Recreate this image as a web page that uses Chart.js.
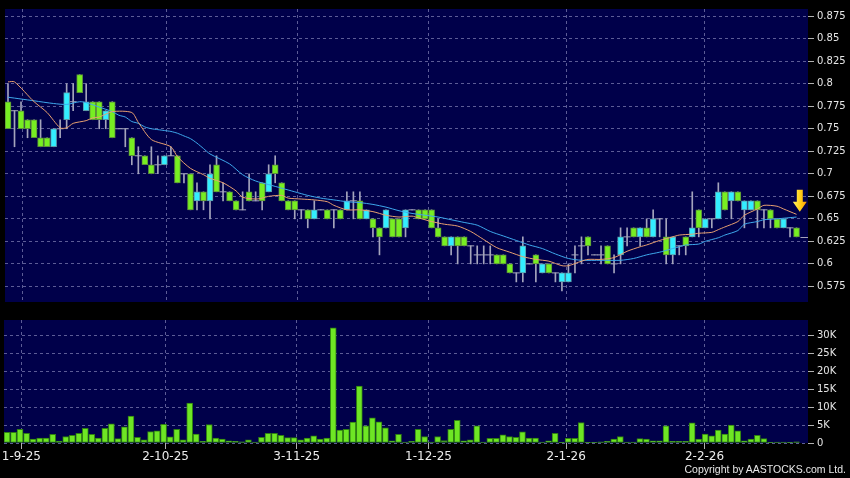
<!DOCTYPE html>
<html>
<head>
<meta charset="utf-8">
<script src="https://cdn.jsdelivr.net/npm/chart.js@4.4.1/dist/chart.umd.min.js"></script>
<style>
  html, body { margin: 0; padding: 0; background: #000; }
  #wrap { position: relative; width: 850px; height: 478px; overflow: hidden; background: #000; }
  #price { position: absolute; left: 0; top: 0; }
  #vol { position: absolute; left: 0; top: 311px; }
  #copy { position: absolute; right: 4px; top: 463px; color: #e8e8e8;
          font: 10.5px "Liberation Sans", Arial, sans-serif; white-space: nowrap; }
</style>
</head>
<body>
<div id="wrap">
  <canvas id="price" width="850" height="311"></canvas>
  <canvas id="vol" width="850" height="167"></canvas>
  <div id="copy">Copyright by AASTOCKS.com Ltd.</div>
</div>
<script>
// daily candles, index 0 = 28-8-25 ... 121 = last session
const opens  = [0.78,0.77,0.77,0.76,0.76,0.74,0.74,0.73,0.75,0.76, 0.78,0.81,0.77,0.78,0.78,0.76,0.78,0.75,0.75,0.74,
                0.72,0.72,0.71,0.71,0.71,0.72,0.72,0.70,0.70,0.67, 0.68,0.67,0.71,0.68,0.68,0.67,0.66,0.68,0.67,0.69,
                0.68,0.71,0.69,0.67,0.67,0.66,0.66,0.65,0.66,0.66, 0.66,0.66,0.66,0.67,0.67,0.65,0.65,0.64,0.64,0.65,
                0.65,0.64,0.66,0.66,0.66,0.66,0.64,0.63,0.62,0.63, 0.63,0.62,0.61,0.61,0.61,0.61,0.61,0.60,0.59,0.59,
                0.60,0.61,0.59,0.60,0.59,0.58,0.58,0.61,0.62,0.63, 0.61,0.61,0.62,0.60,0.61,0.63,0.64,0.63,0.64,0.63,
                0.65,0.63,0.61,0.62,0.63,0.63,0.66,0.64,0.65,0.65, 0.68,0.67,0.68,0.66,0.66,0.67,0.66,0.66,0.65,0.64,
                0.64,0.64];
const highs  = [0.80,0.77,0.78,0.76,0.76,0.76,0.74,0.75,0.76,0.80, 0.80,0.81,0.80,0.78,0.78,0.77,0.78,0.75,0.75,0.74,
                0.73,0.72,0.73,0.72,0.72,0.73,0.72,0.70,0.70,0.69, 0.68,0.71,0.72,0.69,0.68,0.67,0.68,0.70,0.68,0.69,
                0.71,0.72,0.69,0.67,0.67,0.66,0.66,0.67,0.66,0.66, 0.66,0.66,0.68,0.68,0.68,0.66,0.65,0.64,0.66,0.65,
                0.65,0.66,0.66,0.66,0.66,0.66,0.65,0.63,0.63,0.63, 0.63,0.62,0.62,0.62,0.62,0.61,0.61,0.60,0.59,0.63,
                0.60,0.61,0.60,0.60,0.59,0.59,0.60,0.62,0.63,0.63, 0.61,0.62,0.62,0.61,0.64,0.64,0.64,0.64,0.65,0.66,
                0.65,0.65,0.63,0.62,0.63,0.68,0.66,0.65,0.65,0.69, 0.68,0.68,0.68,0.67,0.67,0.67,0.66,0.66,0.65,0.65,
                0.64,0.64];
const lows   = [0.75,0.73,0.75,0.74,0.74,0.73,0.73,0.73,0.74,0.75, 0.77,0.79,0.77,0.76,0.75,0.75,0.74,0.75,0.73,0.71,
                0.70,0.71,0.70,0.70,0.71,0.72,0.69,0.69,0.66,0.66, 0.66,0.65,0.68,0.67,0.67,0.66,0.66,0.67,0.67,0.66,
                0.68,0.69,0.67,0.66,0.65,0.65,0.64,0.65,0.66,0.65, 0.64,0.65,0.66,0.65,0.65,0.65,0.63,0.61,0.64,0.63,
                0.63,0.63,0.66,0.65,0.65,0.64,0.63,0.62,0.61,0.60, 0.62,0.60,0.60,0.60,0.60,0.60,0.60,0.59,0.58,0.58,
                0.60,0.58,0.59,0.59,0.58,0.57,0.58,0.59,0.60,0.61, 0.61,0.60,0.60,0.59,0.60,0.62,0.63,0.62,0.63,0.63,
                0.63,0.60,0.60,0.61,0.61,0.63,0.63,0.64,0.64,0.65, 0.66,0.65,0.67,0.64,0.66,0.64,0.64,0.64,0.64,0.64,
                0.63,0.63];
const closes = [0.75,0.77,0.75,0.75,0.74,0.73,0.73,0.75,0.75,0.79, 0.78,0.79,0.78,0.76,0.76,0.77,0.74,0.75,0.75,0.72,
                0.72,0.71,0.70,0.71,0.72,0.72,0.69,0.70,0.66,0.68, 0.67,0.70,0.68,0.68,0.67,0.66,0.66,0.67,0.67,0.67,
                0.70,0.70,0.67,0.66,0.66,0.66,0.65,0.66,0.66,0.65, 0.66,0.65,0.67,0.67,0.65,0.66,0.64,0.63,0.66,0.63,
                0.63,0.66,0.66,0.65,0.65,0.64,0.63,0.62,0.63,0.62, 0.62,0.62,0.61,0.61,0.61,0.60,0.60,0.59,0.59,0.62,
                0.60,0.60,0.60,0.59,0.59,0.59,0.59,0.61,0.62,0.62, 0.61,0.61,0.60,0.60,0.63,0.63,0.63,0.64,0.63,0.65,
                0.65,0.61,0.63,0.62,0.62,0.64,0.64,0.65,0.65,0.68, 0.66,0.68,0.67,0.67,0.67,0.66,0.66,0.65,0.64,0.65,
                0.64,0.63];
// volume in thousand shares
const volumes = [3.0,3.0,3.8,2.7,1.1,1.4,1.4,2.4,0.5,1.8, 2.1,2.7,4.1,2.4,1.4,4.1,5.3,1.2,4.5,7.5,
                 1.6,0.9,3.2,3.4,5.2,1.7,3.8,0.9,11.1,2.5, 0.45,5.1,1.4,1.1,0.6,0.45,0.36,0.9,0.27,1.6,
                 2.7,2.7,2.1,1.5,1.5,0.9,1.4,2.0,1.1,1.4, 32.0,3.6,3.8,5.8,15.8,4.8,7.0,5.9,4.2,0.6,
                 2.4,0.27,0.45,3.8,1.8,0.27,1.8,0.7,3.8,6.3, 0.6,0.9,4.8,0.27,1.3,1.3,2.3,1.8,1.6,3.1,
                 1.4,1.4,0.27,0.6,2.7,0.2,1.3,1.3,5.7,0.2, 0.1,0.3,0.45,1.1,1.8,0.27,0.27,1.2,1.1,0.6,
                 0.6,4.8,0.45,0.45,0.45,5.6,1.1,2.5,2.0,3.6, 2.5,5.0,3.4,0.6,1.1,2.1,1.2,0.2,0.27,0.27,
                 0.2,0.36];

// moving averages (candle index -> value)
const ma10At = [0,1,4,6,8,9,10,12,13,14,16,19,20,22,25,26,28,30,31,33,35,36,38,39,40,42,43,45,47,49,50,52,54,56,58,
                60,62,63,65,67,69,71,73,75,77,79,81,83,85,86,88,89,91,93,95,97,98,100,102,103,105,106,108,109,110,
                112,113,115,116,118,119,121];
const ma10   = [0.802,0.802,0.780,0.768,0.751,0.751,0.756,0.759,0.762,0.763,0.769,0.768,0.757,0.738,0.730,0.719,0.706,
                0.699,0.695,0.690,0.681,0.674,0.672,0.673,0.675,0.676,0.673,0.672,0.671,0.669,0.665,0.660,0.660,0.658,
                0.654,0.652,0.653,0.651,0.647,0.644,0.642,0.636,0.627,0.618,0.613,0.608,0.605,0.603,0.598,0.598,0.603,
                0.605,0.605,0.607,0.614,0.619,0.621,0.626,0.630,0.632,0.633,0.634,0.635,0.638,0.641,0.647,0.654,0.661,
                0.665,0.664,0.661,0.655];
const ma20At = [0,2,4,7,9,11,12,14,16,17,18,19,20,21,22,23,24,25,26,27,28,29,30,31,34,36,38,40,42,44,46,48,50,52,54,
                56,58,60,62,64,66,68,70,72,74,76,78,80,82,84,86,88,91,94,96,98,100,101,103,104,106,107,109,110,112,
                113,115,116,118,121];
const ma20   = [0.785,0.783,0.781,0.778,0.777,0.780,0.779,0.774,0.769,0.765,0.763,0.758,0.756,0.752,0.750,0.749,0.748,
                0.747,0.745,0.742,0.739,0.734,0.728,0.722,0.711,0.699,0.692,0.688,0.684,0.680,0.676,0.673,0.671,0.669,
                0.668,0.666,0.663,0.659,0.656,0.654,0.652,0.649,0.646,0.643,0.636,0.631,0.626,0.621,0.617,0.611,0.606,
                0.604,0.604,0.604,0.606,0.610,0.613,0.615,0.619,0.621,0.622,0.625,0.629,0.632,0.637,0.644,0.647,0.649,
                0.650,0.652];

// axes
const dateTickAt = [2.2, 24.3, 44.4, 64.6, 85.7, 106.9];
const dateLabels = ['1-9-25', '2-10-25', '3-11-25', '1-12-25', '2-1-26', '2-2-26'];
const priceTicks = [0.575, 0.6, 0.625, 0.65, 0.675, 0.7, 0.725, 0.75, 0.775, 0.8, 0.825, 0.85, 0.875];
const volTicks = [0, 5, 10, 15, 20, 25, 30];

const NAVY = '#00004a';
const GRID = '#5c5c96';
const UP = '#33eeff', DOWN = '#77ee22';
const WICK = '#a4a4bc';
const X_MIN = -0.46, X_MAX = 122.76;

Chart.defaults.font.family = '"DejaVu Sans", sans-serif';
Chart.defaults.color = '#e6e6e6';
Chart.defaults.animation = false;

const navyBg = {
  id: 'navyBg',
  beforeDraw(chart) {
    const { ctx, chartArea: a } = chart;
    ctx.save();
    ctx.fillStyle = NAVY;
    ctx.fillRect(a.left, a.top, a.right - a.left, a.bottom - a.top);
    ctx.restore();
  }
};

// last price stub and the yellow arrow at the end of the averages
const lastMarks = {
  id: 'lastMarks',
  afterDatasetsDraw(chart) {
    const { ctx, chartArea: a, scales: { x, y } } = chart;
    const last = closes.length - 1;
    ctx.save();
    const yl = Math.round(y.getPixelForValue(closes[last])) + 0.5;
    ctx.strokeStyle = WICK;
    ctx.lineWidth = 1;
    ctx.beginPath();
    ctx.moveTo(x.getPixelForValue(last + 0.6), yl);
    ctx.lineTo(a.right, yl);
    ctx.stroke();

    const cx = x.getPixelForValue(last + 0.5);
    const tip = y.getPixelForValue(ma10[ma10.length - 1]) - 2.5;
    const g = ctx.createLinearGradient(cx - 7, 0, cx + 7, 0);
    g.addColorStop(0, '#fff266');
    g.addColorStop(0.5, '#ffd21a');
    g.addColorStop(1, '#ff9a00');
    ctx.fillStyle = g;
    ctx.beginPath();
    ctx.moveTo(cx - 3, tip - 22);
    ctx.lineTo(cx + 3, tip - 22);
    ctx.lineTo(cx + 3, tip - 10);
    ctx.lineTo(cx + 7, tip - 10);
    ctx.lineTo(cx, tip);
    ctx.lineTo(cx - 7, tip - 10);
    ctx.lineTo(cx - 3, tip - 10);
    ctx.closePath();
    ctx.fill();
    ctx.restore();
  }
};

const idx = closes.map((c, i) => i);
const bodyIdx = idx.filter(i => opens[i] !== closes[i]);
const dojiIdx = idx.filter(i => opens[i] === closes[i]);

function dateAxis(showLabels) {
  return {
    type: 'linear', min: X_MIN, max: X_MAX, offset: false,
    afterBuildTicks(s) { s.ticks = dateTickAt.map(v => ({ value: v })); },
    afterFit(s) { s.height = showLabels ? 35 : 0; },
    grid: { color: GRID, offset: false, drawTicks: showLabels, tickLength: 6,
            tickColor: '#b0b0b0', tickBorderDash: [] },
    border: { display: false, dash: [3, 3] },
    ticks: { display: showLabels, autoSkip: false, maxRotation: 0, padding: 1,
             font: { size: 12 }, color: '#ececec',
             callback: (v, i) => dateLabels[i] }
  };
}

new Chart(document.getElementById('price'), {
  type: 'bar',
  data: {
    datasets: [
      {
        type: 'line', label: 'MA10', order: 1,
        data: ma10At.map((i, k) => ({ x: i, y: ma10[k] })),
        borderColor: '#e8a070', borderWidth: 1, pointRadius: 0, tension: 0.25
      },
      {
        type: 'line', label: 'MA20', order: 2,
        data: ma20At.map((i, k) => ({ x: i, y: ma20[k] })),
        borderColor: '#3ea8ec', borderWidth: 1, pointRadius: 0, tension: 0.25
      },
      {
        type: 'bar', label: 'body', order: 3, grouped: false,
        data: bodyIdx.map(i => ({ x: i, y: [opens[i], closes[i]] })),
        backgroundColor: bodyIdx.map(i => closes[i] > opens[i] ? UP : DOWN),
        borderColor: bodyIdx.map(i => closes[i] > opens[i] ? '#5a9aa8' : '#5b8f3a'),
        borderWidth: 1, borderSkipped: false, barThickness: 6
      },
      {
        type: 'line', label: 'doji', order: 4, showLine: false,
        data: dojiIdx.map(i => ({ x: i, y: closes[i] })),
        pointStyle: 'line', pointRadius: 3.5, borderColor: WICK, borderWidth: 1
      },
      {
        type: 'bar', label: 'wick', order: 5, grouped: false,
        data: idx.map(i => ({ x: i, y: [lows[i], highs[i]] })),
        backgroundColor: WICK, borderWidth: 0, barThickness: 1
      }
    ]
  },
  options: {
    responsive: false,
    events: [],
    layout: { padding: { left: 4, top: 5, bottom: 5, right: 0 } },
    plugins: { legend: { display: false }, tooltip: { enabled: false } },
    scales: {
      x: dateAxis(false),
      y: {
        position: 'right', min: 0.5577, max: 0.8829,
        afterBuildTicks(s) { s.ticks = priceTicks.map(v => ({ value: v })); },
        afterFit(s) { s.width = 42; },
        grid: { color: GRID, tickLength: 6, tickColor: '#b0b0b0', tickBorderDash: [] },
        border: { display: false, dash: [3, 3] },
        ticks: { padding: 3, font: { size: 10 }, color: '#e6e6e6',
                 callback: v => String(+v.toFixed(3)) }
      }
    }
  },
  plugins: [navyBg, lastMarks]
});

new Chart(document.getElementById('vol'), {
  type: 'bar',
  data: {
    datasets: [{
      label: 'Volume', grouped: false,
      data: idx.map(i => ({ x: i, y: volumes[i] })),
      backgroundColor: '#6ee624', borderColor: '#2f7f12', borderWidth: 1,
      borderSkipped: false, barThickness: 6
    }]
  },
  options: {
    responsive: false,
    events: [],
    layout: { padding: { left: 4, top: 7, bottom: 0, right: 0 } },
    plugins: { legend: { display: false }, tooltip: { enabled: false } },
    scales: {
      x: dateAxis(true),
      y: {
        position: 'right', min: 0, max: 34.2,
        afterBuildTicks(s) { s.ticks = volTicks.map(v => ({ value: v })); },
        afterFit(s) { s.width = 42; },
        grid: { color: GRID, tickLength: 6, tickColor: '#b0b0b0', tickBorderDash: [] },
        border: { display: false, dash: [3, 3] },
        ticks: { padding: 3, font: { size: 10 }, color: '#e6e6e6',
                 callback: v => (v === 0 ? '0' : v + 'K') }
      }
    }
  },
  plugins: [navyBg]
});
</script>
</body>
</html>
